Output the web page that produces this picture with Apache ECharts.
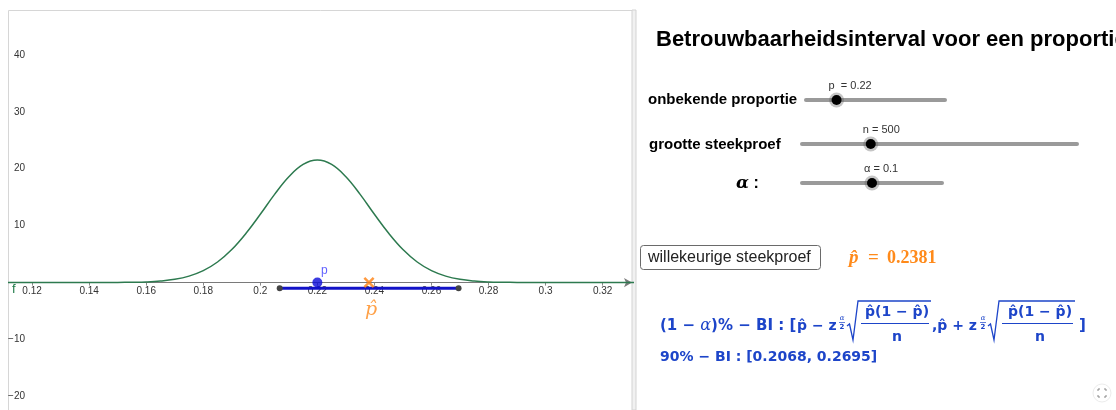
<!DOCTYPE html>
<html>
<head>
<meta charset="utf-8">
<script src="https://cdn.jsdelivr.net/npm/echarts@6/dist/echarts.min.js"></script>
<style>
  html, body { margin: 0; padding: 0; background: #fff; }
  #chart { width: 1116px; height: 410px; }
</style>
</head>
<body>
<div id="chart"></div>
<script>
// density curve f
const xs = [0.11, 0.12, 0.13, 0.14, 0.145, 0.15, 0.155, 0.16, 0.165, 0.17, 0.175, 0.18, 0.185, 0.19, 0.195,
  0.2, 0.205, 0.21, 0.215, 0.22, 0.225, 0.23, 0.235, 0.24, 0.245, 0.25, 0.255, 0.26, 0.265, 0.27,
  0.275, 0.28, 0.285, 0.29, 0.295, 0.3, 0.31, 0.32, 0.33, 0.34];
const fVals = [0, 0, 0, 0.01, 0.01, 0.02, 0.05, 0.11, 0.26, 0.56, 1.13, 2.09, 3.61, 5.8, 8.66,
  12.0, 15.5, 18.6, 20.76, 21.53, 20.76, 18.6, 15.5, 12.0, 8.66, 5.8, 3.61, 2.09, 1.13, 0.56,
  0.26, 0.11, 0.05, 0.02, 0.01, 0.01, 0, 0, 0, 0];
const xTicks = [0.12, 0.14, 0.16, 0.18, 0.2, 0.22, 0.24, 0.26, 0.28, 0.3, 0.32];
const yTicks = [-20, -10, 10, 20, 30, 40];

const p = 0.22;
const pHat = 0.2381;
const ci = [0.2068, 0.2695];
const ciY = -1;
const n = 500;
const alpha = 0.1;

const blue = '#1d45c9';
const orange = '#ff8a1a';
const mathFont = '"DejaVu Sans", sans-serif';
const uiFont = 'Arial, "Liberation Sans", sans-serif';

let myChart = echarts.init(document.getElementById('chart'));

function txt(x, y, text, style) {
  return {
    type: 'text', silent: true,
    style: Object.assign({ x: x, y: y, text: text, fill: '#000', verticalAlign: 'middle' }, style)
  };
}

function slider(x1, x2, y, frac, label) {
  let kx = x1 + (x2 - x1) * frac;
  return [
    { type: 'line', shape: { x1: x1, y1: y, x2: x2, y2: y }, style: { stroke: '#9a9a9a', lineWidth: 4, lineCap: 'round' } },
    { type: 'circle', shape: { cx: kx, cy: y, r: 7.5 }, style: { fill: 'rgba(90,90,90,0.35)' } },
    { type: 'circle', shape: { cx: kx, cy: y, r: 5 }, style: { fill: '#000' } },
    txt(kx - 8, y - 14, label, { fontSize: 11, fontFamily: uiFont, fill: '#333' })
  ];
}

function sqrtFrac(x0, xEnd, cx) {
  return [
    { type: 'polyline', shape: { points: [[x0, 326], [x0 + 2.5, 324], [x0 + 6, 340], [x0 + 11, 301], [xEnd, 301]] },
      style: { stroke: blue, lineWidth: 1.3, fill: null } },
    txt(cx, 312, 'p\u0302(1 \u2212 p\u0302)', { align: 'center', fontSize: 14, fontWeight: 'bold', fontFamily: mathFont, fill: blue }),
    { type: 'line', shape: { x1: x0 + 14, y1: 323.5, x2: xEnd - 2, y2: 323.5 }, style: { stroke: blue, lineWidth: 1.2 } },
    txt(cx, 337, 'n', { align: 'center', fontSize: 14, fontWeight: 'bold', fontFamily: mathFont, fill: blue })
  ];
}

function halfAlpha(x) {
  return [
    txt(x, 318.5, '\u03b1', { align: 'center', fontSize: 7, fontStyle: 'italic', fontFamily: '"DejaVu Serif", serif', fill: blue }),
    { type: 'line', shape: { x1: x - 3, y1: 322.5, x2: x + 3, y2: 322.5 }, style: { stroke: blue, lineWidth: 0.7 } },
    txt(x, 327, '2', { align: 'center', fontSize: 7, fontWeight: 'bold', fontFamily: mathFont, fill: blue })
  ];
}

let graphics = [
  // panel frames
  { type: 'line', shape: { x1: 8.5, y1: 10.5, x2: 632, y2: 10.5 }, style: { stroke: '#d6d6d6', lineWidth: 1 } },
  { type: 'line', shape: { x1: 8.5, y1: 10.5, x2: 8.5, y2: 410 }, style: { stroke: '#d6d6d6', lineWidth: 1 } },
  { type: 'rect', shape: { x: 632, y: 10, width: 4, height: 400 }, style: { fill: '#f1f1f1', stroke: '#d3d3d3', lineWidth: 1 } },
  txt(12, 289, 'f', { fontSize: 13, fontFamily: uiFont, fill: '#1f7a48' }),

  // right panel
  txt(656, 40, 'Betrouwbaarheidsinterval voor een proportie', { fontSize: 22, fontWeight: 'bold', fontFamily: uiFont }),
  txt(648, 100, 'onbekende proportie', { fontSize: 15, fontWeight: 'bold', fontFamily: uiFont }),
  txt(649, 145, 'grootte steekproef', { fontSize: 15, fontWeight: 'bold', fontFamily: uiFont }),
  txt(736, 184, '{a|\u03b1} :', { fontSize: 16, fontWeight: 'bold', fontFamily: uiFont,
    rich: { a: { fontSize: 17, fontStyle: 'italic', fontWeight: 'bold', fontFamily: '"DejaVu Serif", serif' } } })
];
graphics = graphics.concat(
  slider(806, 945, 100, p, 'p  = ' + p),
  slider(802, 1077, 144, n / 2000, 'n = ' + n),
  slider(802, 942, 183, alpha / 0.2, '\u03b1 = ' + alpha)
);
graphics.push(
  { type: 'rect', shape: { x: 640.5, y: 245.5, width: 180, height: 24, r: 3 }, style: { fill: '#fff', stroke: '#6a6a6a', lineWidth: 1 } },
  txt(648, 257.5, 'willekeurige steekproef', { fontSize: 16, fontFamily: uiFont, fill: '#222' }),
  txt(849, 258, 'p\u0302', { fontSize: 19, fontStyle: 'italic', fontWeight: 'bold', fontFamily: '"Liberation Serif", serif', fill: orange }),
  txt(868, 258, '=', { fontSize: 19, fontWeight: 'bold', fontFamily: '"Liberation Serif", serif', fill: orange }),
  txt(887, 258, pHat.toFixed(4), { fontSize: 18, fontWeight: 'bold', fontFamily: '"Liberation Serif", serif', fill: orange }),

  // formula
  txt(660, 326, '(1 \u2212 {a|\u03b1})% \u2212 BI : [', { fontSize: 15, fontWeight: 'bold', fontFamily: mathFont, fill: blue,
    rich: { a: { fontSize: 16, fontStyle: 'italic', fontFamily: '"DejaVu Serif", serif', fill: blue } } }),
  txt(797, 326, 'p\u0302 \u2212 z', { fontSize: 14, fontWeight: 'bold', fontFamily: mathFont, fill: blue }),
  txt(932, 326, ',p\u0302 + z', { fontSize: 14, fontWeight: 'bold', fontFamily: mathFont, fill: blue }),
  txt(1079, 326, ']', { fontSize: 15, fontWeight: 'bold', fontFamily: mathFont, fill: blue }),
  txt(660, 357, (1 - alpha) * 100 + '% \u2212 BI : [' + ci[0].toFixed(4) + ', ' + ci[1].toFixed(4) + ']',
    { fontSize: 14, fontWeight: 'bold', fontFamily: mathFont, fill: blue }),

  // fullscreen icon
  { type: 'circle', shape: { cx: 1102, cy: 393, r: 9 }, style: { fill: '#fff', stroke: '#ececec', lineWidth: 1 } },
  { type: 'polyline', shape: { points: [[1098, 391], [1098, 389], [1100, 389]] }, style: { stroke: '#888', lineWidth: 1, fill: null } },
  { type: 'polyline', shape: { points: [[1104, 389], [1106, 389], [1106, 391]] }, style: { stroke: '#888', lineWidth: 1, fill: null } },
  { type: 'polyline', shape: { points: [[1098, 395], [1098, 397], [1100, 397]] }, style: { stroke: '#888', lineWidth: 1, fill: null } },
  { type: 'polyline', shape: { points: [[1104, 397], [1106, 397], [1106, 395]] }, style: { stroke: '#888', lineWidth: 1, fill: null } }
);
graphics = graphics.concat(halfAlpha(842), sqrtFrac(847, 931, 897), halfAlpha(983), sqrtFrac(988, 1075, 1040));

let option = {
  animation: false,
  backgroundColor: '#fff',
  grid: { left: 9, right: 484, top: 10, bottom: 0, outerBoundsMode: 'none' },
  xAxis: {
    type: 'value',
    position: 'bottom',
    offset: -127.4,
    min: 0.1119,
    max: 0.3303,
    axisLine: {
      onZero: false,
      symbol: ['none', 'arrow'],
      symbolSize: [7, 8],
      lineStyle: { color: '#7a7a7a', width: 1 }
    },
    axisTick: { customValues: xTicks, length: 3, lineStyle: { color: '#8a8a8a' } },
    axisLabel: {
      customValues: xTicks,
      margin: 4,
      fontSize: 10,
      color: '#333',
      fontFamily: 'Arial, sans-serif',
      hideOverlap: false,
      formatter: v => String(+(+v).toFixed(2))
    },
    splitLine: { show: false }
  },
  yAxis: {
    type: 'value',
    min: -22.4,
    max: 47.9,
    axisLine: { show: false },
    axisTick: { show: false },
    splitLine: { show: false },
    axisLabel: {
      customValues: yTicks,
      inside: true,
      align: 'right',
      margin: 16,
      fontSize: 10,
      color: '#333',
      fontFamily: 'Arial, sans-serif',
      formatter: v => (v < 0 ? '\u2212' + (-v) : String(v))
    }
  },
  series: [
    {
      name: 'f',
      type: 'line',
      data: xs.map((x, i) => [x, fVals[i]]),
      showSymbol: false,
      smooth: 0.4,
      lineStyle: { color: '#2d7a4f', width: 1.5 },
      clip: true,
      z: 3
    },
    {
      name: 'BI',
      type: 'line',
      data: ci.map(v => [v, ciY]),
      symbol: 'circle',
      symbolSize: 6,
      itemStyle: { color: '#444' },
      lineStyle: { color: '#1212c8', width: 3 },
      z: 4
    },
    {
      name: 'p',
      type: 'scatter',
      data: [[p, 0]],
      symbolSize: 10,
      itemStyle: { color: '#0a0ad8' },
      label: {
        show: true,
        formatter: 'p',
        position: 'inside',
        offset: [7, -12],
        color: '#3a3aff',
        fontSize: 12,
        fontFamily: 'Arial, sans-serif'
      },
      z: 5
    },
    {
      name: 'p_hat',
      type: 'scatter',
      data: [[pHat, 0]],
      symbol: 'path://M0,1.6L1.6,0L5,3.4L8.4,0L10,1.6L6.6,5L10,8.4L8.4,10L5,6.6L1.6,10L0,8.4L3.4,5Z',
      symbolSize: 11,
      itemStyle: { color: '#ff7f0e' },
      label: {
        show: true,
        formatter: 'p\u0302',
        position: 'inside',
        offset: [2, 28],
        color: orange,
        fontSize: 19,
        fontStyle: 'italic',
        fontFamily: '"DejaVu Serif", serif'
      },
      z: 5
    }
  ],
  graphic: graphics
};
myChart.setOption(option);
</script>
</body>
</html>
